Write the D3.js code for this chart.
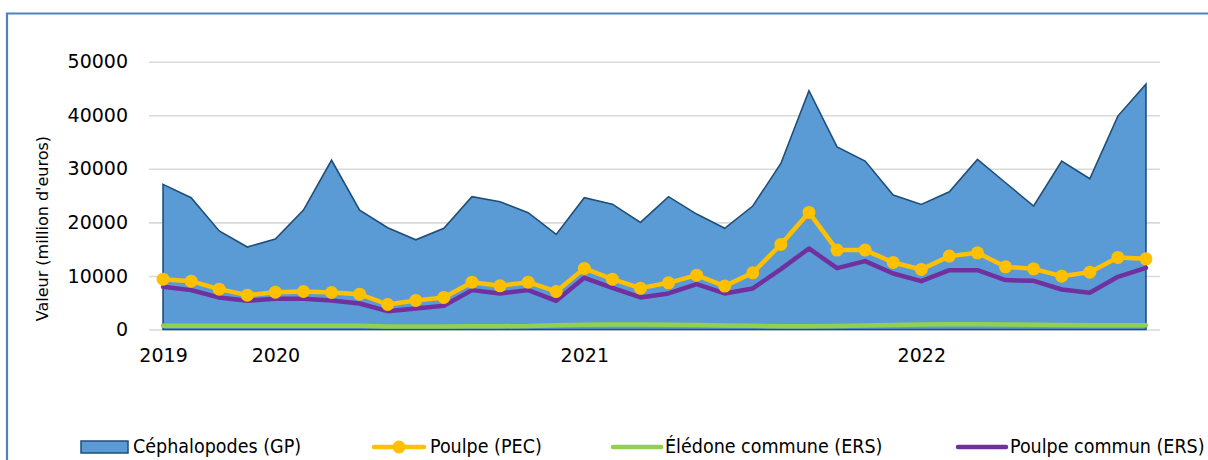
<!DOCTYPE html>
<html>
<head>
<meta charset="utf-8">
<script src="https://cdn.jsdelivr.net/npm/d3@7"></script>
<style>
  html, body { margin: 0; padding: 0; background: #ffffff; }
  svg { display: block; }
</style>
</head>
<body>
<svg id="chart" width="1208" height="460"></svg>
<script>
// ---- data ----
const xLabels = ["2019","","","","2020","","","","","","","","","","","2021","","","","","","","","","","","","2022","","","","","","","",""];
const cephalopodes = [27100,24600,18400,15400,16900,22300,31600,22300,19000,16750,18900,24800,23850,21800,17750,24600,23400,20000,24800,21550,18900,23050,31000,44600,34100,31450,25100,23350,25700,31750,27400,23050,31450,28150,39850,45800];
const poulpePEC = [9400,9030,7530,6410,6970,7100,6910,6600,4670,5420,5980,8840,8160,8840,7100,11400,9400,7720,8720,10150,8100,10590,15880,21860,14820,14820,12520,11210,13700,14320,11710,11330,9960,10710,13450,13200];
const eledone = [700,720,700,680,680,690,700,720,560,560,580,600,620,650,800,900,950,930,880,820,750,680,620,600,650,750,850,950,980,980,950,900,850,800,780,780];
const poulpeERS = [7970,7350,5980,5360,5730,5730,5420,4860,3420,3920,4420,7350,6730,7350,5360,9650,7780,5980,6730,8470,6730,7660,11270,15130,11460,12770,10460,9030,11080,11080,9220,9090,7470,6850,9840,11520];
const yTicks = [0,10000,20000,30000,40000,50000];
const seriesNames = ["Céphalopodes (GP)","Poulpe (PEC)","Élédone commune (ERS)","Poulpe commun (ERS)"];
const yTitle = "Valeur (million d'euros)";

// ---- layout ----
const svg = d3.select("#chart");
const plot = { left: 149, right: 1160, top: 61.7, bottom: 329.5 };
const idx = d3.range(cephalopodes.length);

const x = d3.scalePoint().domain(idx).range([plot.left, plot.right]).padding(0.5);
const y = d3.scaleLinear().domain([0, 50000]).range([plot.bottom, plot.top]);

// frame
svg.append("path")
  .attr("d", `M7,470 L7,13.5 L1215,13.5`)
  .attr("fill", "none").attr("stroke", "#4F81BD").attr("stroke-width", 2.2);

// y axis + gridlines
const yAxis = d3.axisLeft(y).tickValues(yTicks).tickFormat(d3.format("d"))
  .tickSizeInner(-(plot.right - plot.left)).tickSizeOuter(0).tickPadding(21);
const gy = svg.append("g").attr("transform", `translate(${plot.left},0)`).call(yAxis);
gy.select(".domain").remove();
gy.selectAll(".tick line").attr("stroke", "#D9D9D9").attr("stroke-width", 1.6);
gy.selectAll(".tick text").attr("fill", "#000").style("font-family", "DejaVu Sans, sans-serif").style("font-size", "19px");

// area
const area = d3.area().x((d, i) => x(i)).y0(y(0)).y1(d => y(d));
svg.append("path").datum(cephalopodes)
  .attr("d", area).attr("fill", "#5B9BD5")
  .attr("stroke", "#1F4E79").attr("stroke-width", 1.6).attr("stroke-linejoin", "miter");

const line = d3.line().x((d, i) => x(i)).y(d => y(d));

svg.append("path").datum(eledone).attr("d", line)
  .attr("fill", "none").attr("stroke", "#92D050").attr("stroke-width", 4.5)
  .attr("stroke-linecap", "round").attr("stroke-linejoin", "round");

svg.append("path").datum(poulpeERS).attr("d", line)
  .attr("fill", "none").attr("stroke", "#7030A0").attr("stroke-width", 4.5)
  .attr("stroke-linecap", "round").attr("stroke-linejoin", "round");

svg.append("path").datum(poulpePEC).attr("d", line)
  .attr("fill", "none").attr("stroke", "#FFC000").attr("stroke-width", 4.5)
  .attr("stroke-linecap", "round").attr("stroke-linejoin", "round");

svg.append("g").selectAll("circle").data(poulpePEC).join("circle")
  .attr("cx", (d, i) => x(i)).attr("cy", d => y(d)).attr("r", 6.5)
  .attr("fill", "#FFC000");

// x axis
const labelIdx = idx.filter(i => xLabels[i] !== "");
const xAxis = d3.axisBottom(x).tickValues(labelIdx).tickFormat(i => xLabels[i])
  .tickSize(0).tickPadding(19);
const gx = svg.append("g").attr("transform", `translate(0,${plot.bottom})`).call(xAxis);
gx.select(".domain").remove();
gx.selectAll(".tick text").attr("fill", "#000").style("font-family", "DejaVu Sans, sans-serif").style("font-size", "19px");

// y title
svg.append("text")
  .attr("transform", `translate(42,${(plot.top + plot.bottom) / 2 + 33}) rotate(-90)`)
  .attr("text-anchor", "middle").attr("dominant-baseline", "central")
  .style("font-family", "DejaVu Sans, sans-serif").style("font-size", "16px")
  .attr("fill", "#000").text(yTitle);

// legend
const legY = 447;
const legFont = "'DejaVu Sans Condensed', 'DejaVu Sans', sans-serif";
const lg = svg.append("g");
// entry 1: area swatch
lg.append("rect").attr("x", 81).attr("y", 441).attr("width", 47).attr("height", 12)
  .attr("fill", "#5B9BD5").attr("stroke", "#1F4E79").attr("stroke-width", 1.5);
// entry 2: yellow line with marker
lg.append("line").attr("x1", 374).attr("x2", 424).attr("y1", legY).attr("y2", legY)
  .attr("stroke", "#FFC000").attr("stroke-width", 4.5).attr("stroke-linecap", "round");
lg.append("circle").attr("cx", 399).attr("cy", legY).attr("r", 6.5).attr("fill", "#FFC000");
// entry 3: green
lg.append("line").attr("x1", 613).attr("x2", 661).attr("y1", legY).attr("y2", legY)
  .attr("stroke", "#92D050").attr("stroke-width", 4.5).attr("stroke-linecap", "round");
// entry 4: purple
lg.append("line").attr("x1", 958).attr("x2", 1006).attr("y1", legY).attr("y2", legY)
  .attr("stroke", "#7030A0").attr("stroke-width", 4.5).attr("stroke-linecap", "round");

const legX = [133, 430, 665, 1010];
lg.selectAll("text.leg").data(seriesNames).join("text").attr("class", "leg")
  .attr("x", (d, i) => legX[i]).attr("y", 452.5)
  .style("font-family", legFont).style("font-size", "19.5px")
  .attr("fill", "#000").text(d => d);
</script>
</body>
</html>
